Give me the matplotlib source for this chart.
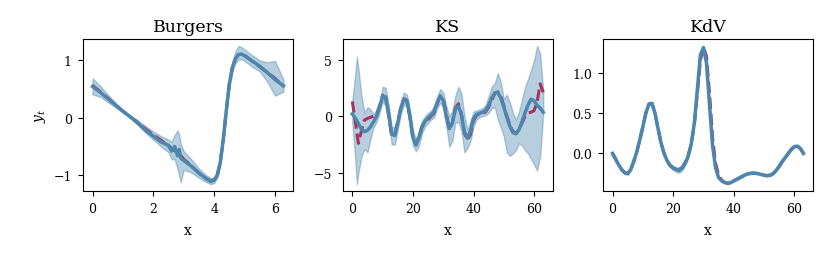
import numpy as np
import matplotlib
matplotlib.use("Agg")
import matplotlib.pyplot as plt

plt.rcParams['font.family'] = ['DejaVu Serif']
plt.rcParams['mathtext.fontset'] = 'dejavuserif'

# ---------------- Burgers ----------------
burgers_x = [0.0, 0.25, 0.5, 0.75, 1.0, 1.25, 1.5, 1.75, 2.0, 2.25, 2.5, 2.6, 2.7, 2.8, 2.85, 2.9,
             3.0, 3.25, 3.5, 3.75, 3.9, 4.0, 4.1, 4.2, 4.3, 4.4, 4.5, 4.6, 4.7, 4.8, 4.9, 5.0,
             5.25, 5.5, 5.75, 6.0, 6.28]
burgers_true = [0.56, 0.45, 0.34, 0.22, 0.11, 0.01, -0.09, -0.2, -0.3, -0.39, -0.49, -0.53, -0.57, -0.61,
                -0.63, -0.65, -0.72, -0.83, -0.96, -1.06, -1.1, -1.08, -1.0, -0.78, -0.38, 0.12, 0.58,
                0.87, 1.02, 1.09, 1.1, 1.08, 0.98, 0.88, 0.78, 0.68, 0.54]
burgers_pred = [0.54, 0.44, 0.33, 0.22, 0.11, 0.01, -0.1, -0.22, -0.32, -0.42, -0.48, -0.58, -0.50, -0.66,
                -0.55, -0.70, -0.74, -0.84, -0.96, -1.06, -1.1, -1.08, -1.0, -0.78, -0.38, 0.12, 0.58,
                0.87, 1.02, 1.09, 1.1, 1.07, 0.98, 0.89, 0.78, 0.66, 0.55]
burgers_lo = [0.40, 0.36, 0.27, 0.18, 0.09, 0.0, -0.13, -0.27, -0.38, -0.5, -0.6, -0.72, -0.72, -0.9,
              -1.0, -1.12, -0.9, -0.95, -1.04, -1.12, -1.15, -1.13, -1.05, -0.82, -0.42, 0.08, 0.53,
              0.80, 0.94, 1.0, 1.01, 0.98, 0.88, 0.8, 0.62, 0.38, 0.45]
burgers_hi = [0.68, 0.55, 0.40, 0.26, 0.13, 0.03, -0.05, -0.15, -0.24, -0.32, -0.38, -0.42, -0.30, -0.22,
              -0.30, -0.45, -0.58, -0.72, -0.88, -1.0, -1.05, -1.03, -0.95, -0.74, -0.34, 0.16, 0.63,
              0.95, 1.15, 1.24, 1.22, 1.18, 1.08, 0.99, 0.96, 0.98, 0.66]

# ---------------- KS ----------------
ks_x = [0, 1, 1.5, 2, 3, 4, 5, 6, 7, 8, 9, 10, 11, 12, 13, 14, 15,
        16, 17, 18, 19, 20, 21, 22, 23, 24, 25, 26, 27, 28, 29, 30, 31,
        32, 33, 34, 35, 36, 37, 38, 39, 40, 41, 42, 43, 44, 45, 46, 47,
        48, 49, 50, 51, 52, 53, 54, 55, 56, 57, 58, 59, 60, 61, 62, 63]
ks_true = [1.3, -0.5, -1.5, -2.4, -1.3, -0.35, -0.2, -0.1, 0.0, 0.2, 0.9, 1.85, 1.6, 0.0, -1.75, -1.6, -0.5,
           0.8, 1.55, 1.3, -0.1, -2.0, -2.5, -1.8, -0.9, -0.5, -0.3, 0.0, 0.3, 1.1, 1.75, 1.5, 0.2,
           -1.2, -0.6, 0.7, 1.1, 0.2, -1.5, -2.1, -1.6, -0.4, 0.1, 0.15, 0.2, 0.4, 0.8, 1.4, 2.0,
           2.15, 1.8, 0.9, 0.0, -0.8, -1.35, -1.5, -1.2, -0.6, 0.0, 0.3, 0.35, 0.5, 1.3, 2.85, 2.1]
ks_pred = [0.2, -0.2, -0.42, -0.65, -1.15, -1.37, -1.25, -0.95, -0.5, 0.0, 0.8, 1.75, 1.7, 0.2, -1.6, -1.7, -0.6,
           0.7, 1.5, 1.4, 0.0, -1.9, -2.55, -1.9, -0.95, -0.45, -0.15, 0.1, 0.4, 1.2, 1.8, 1.4, 0.0,
           -1.1, -0.6, 0.6, 0.9, 0.1, -1.4, -1.95, -1.3, -0.2, 0.15, 0.25, 0.35, 0.5, 0.95, 1.6, 2.05,
           2.1, 1.6, 0.8, -0.1, -0.9, -1.45, -1.55, -1.2, -0.5, 0.3, 1.0, 1.5, 1.35, 0.95, 0.7, 0.35]
ks_lo = [-0.6, -4.0, -6.0, -5.0, -3.6, -2.9, -3.2, -2.0, -1.0, -0.5, 0.3, 1.3, 0.9, -0.5, -2.5, -2.5, -1.2,
         0.2, 1.0, 0.8, -0.6, -2.6, -3.1, -2.6, -1.5, -0.9, -0.6, -0.3, -0.1, 0.7, 1.2, 0.7, -0.9,
         -2.7, -2.2, -0.6, -0.5, -1.3, -3.2, -2.8, -2.2, -0.9, -0.3, -0.1, 0.0, 0.1, 0.3, 0.7, 0.8,
         -0.3, -1.0, -1.8, -3.2, -3.5, -3.3, -3.0, -2.4, -2.6, -3.0, -3.3, -3.8, -4.3, -4.8, -3.5, 0.2]
ks_hi = [1.4, 3.8, 5.25, 4.2, 1.8, 0.3, 0.8, 0.6, 0.2, 0.5, 1.3, 2.6, 2.5, 1.0, -1.0, -0.9, 0.0,
         1.2, 2.1, 1.9, 0.6, -1.3, -2.0, -1.3, -0.4, 0.0, 0.3, 0.5, 0.9, 1.7, 2.4, 2.1, 0.9,
         0.0, 0.5, 1.8, 2.6, 2.0, 0.0, -1.2, -0.4, 0.4, 0.5, 0.6, 0.7, 1.0, 1.8, 2.6, 2.9,
         3.8, 3.0, 1.5, 1.9, 1.2, 0.3, -0.3, 0.4, 1.5, 2.6, 3.3, 4.1, 5.0, 6.2, 5.5, 2.2]

# ---------------- KdV ----------------
kdv_x = list(range(64))
kdv_pred = [0.0, -0.07, -0.14, -0.2, -0.24, -0.25, -0.2, -0.1, 0.02, 0.17, 0.33, 0.5, 0.61, 0.62, 0.5, 0.31,
            0.13, 0.0, -0.09, -0.15, -0.18, -0.2, -0.21, -0.18, -0.12, -0.03, 0.12, 0.38, 0.8, 1.22, 1.31, 1.12,
            0.6, 0.1, -0.18, -0.3, -0.34, -0.36, -0.37, -0.36, -0.34, -0.32, -0.3, -0.28, -0.26, -0.25, -0.245, -0.245,
            -0.25, -0.26, -0.27, -0.275, -0.27, -0.25, -0.21, -0.16, -0.1, -0.05, 0.0, 0.05, 0.085, 0.09, 0.06, 0.0]
kdv_true = [0.0, -0.07, -0.14, -0.2, -0.24, -0.25, -0.2, -0.1, 0.02, 0.17, 0.33, 0.5, 0.61, 0.62, 0.5, 0.31,
            0.13, 0.0, -0.09, -0.15, -0.18, -0.2, -0.2, -0.17, -0.11, -0.02, 0.12, 0.36, 0.74, 1.15, 1.32, 1.2,
            0.75, 0.2, -0.12, -0.27, -0.33, -0.36, -0.37, -0.36, -0.34, -0.32, -0.3, -0.28, -0.26, -0.25, -0.245, -0.245,
            -0.25, -0.26, -0.27, -0.275, -0.27, -0.25, -0.21, -0.16, -0.1, -0.05, 0.0, 0.05, 0.085, 0.09, 0.06, 0.0]
kdv_std = [0.01, 0.01, 0.01, 0.01, 0.012, 0.015, 0.015, 0.012, 0.01, 0.01, 0.01, 0.01, 0.012, 0.012, 0.01, 0.01,
           0.01, 0.012, 0.015, 0.02, 0.025, 0.03, 0.03, 0.03, 0.025, 0.02, 0.015, 0.015, 0.015, 0.02, 0.02, 0.02,
           0.015, 0.015, 0.012, 0.01, 0.01, 0.01, 0.01, 0.01, 0.01, 0.01, 0.01, 0.01, 0.01, 0.01, 0.01, 0.01,
           0.01, 0.01, 0.01, 0.01, 0.01, 0.01, 0.01, 0.01, 0.01, 0.01, 0.01, 0.01, 0.01, 0.012, 0.012, 0.01]

titles = ["Burgers", "KS", "KdV"]

blue = '#4a86ad'
red = '#a8325e'
band = '#4a86ad'

fig = plt.figure(figsize=(8.3, 2.55), dpi=100)
lefts = [0.1, 0.413, 0.7265]
axes = [fig.add_axes([l, 0.247, 0.253, 0.596]) for l in lefts]

data = [
    (burgers_x, burgers_true, burgers_pred, burgers_lo, burgers_hi),
    (ks_x, ks_true, ks_pred, ks_lo, ks_hi),
    (kdv_x, kdv_true, kdv_pred,
     [p - s for p, s in zip(kdv_pred, kdv_std)],
     [p + s for p, s in zip(kdv_pred, kdv_std)]),
]

for ax, title, (x, yt, yp, lo, hi) in zip(axes, titles, data):
    ax.fill_between(x, lo, hi, color=band, alpha=0.4, linewidth=1.0, edgecolor=band)
    ax.plot(x, yt, color=red, linestyle='--', linewidth=2.2, zorder=2)
    ax.plot(x, yp, color=blue, linewidth=2.5, zorder=3)
    ax.set_title(title, fontsize=12.5)
    ax.set_xlabel('x', fontsize=10, labelpad=6)
    ax.tick_params(labelsize=9, pad=4.5)

axes[0].set_ylabel('$y_t$', fontsize=10)
axes[0].set_xticks([0, 2, 4, 6])
axes[0].set_yticks([-1, 0, 1])
axes[1].set_xticks([0, 20, 40, 60])
axes[1].set_yticks([-5, 0, 5])
axes[2].set_xticks([0, 20, 40, 60])
axes[2].set_yticks([0.0, 0.5, 1.0])

fig.savefig('out.png', dpi=100)
